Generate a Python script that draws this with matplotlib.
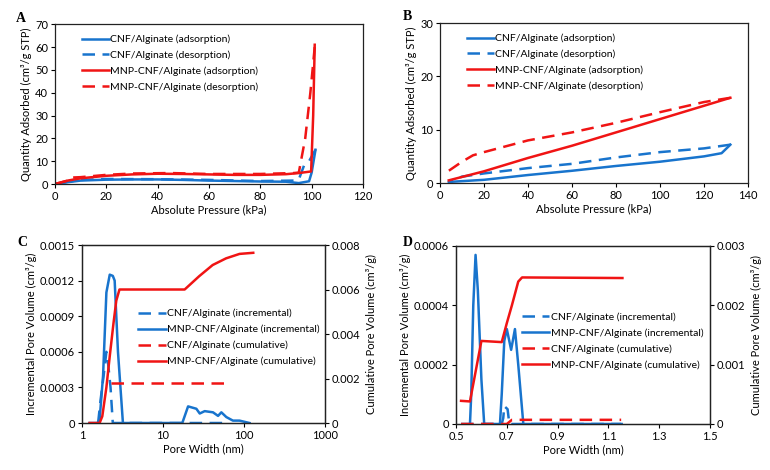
import matplotlib
matplotlib.use("Agg")
import matplotlib.pyplot as plt
import numpy as np

plt.rcParams['font.family'] = ['Lato', 'DejaVu Sans']
plt.rcParams['font.size'] = 8
plt.rcParams['legend.fontsize'] = 7.5

blue = '#1874cd'
red = '#f01414'

# ---- A: isotherms (wide range) ----
a_cnf_ads_x = [0, 5, 10, 20, 30, 40, 50, 60, 70, 80, 90, 95, 99, 100, 101.5]
a_cnf_ads_y = [0, 0.8, 1.5, 1.9, 2.0, 2.0, 1.8, 1.5, 1.3, 1.1, 1.0, 0.4, 1.2, 5, 15]
a_cnf_des_x = [101.5, 99, 97, 95, 93, 80, 60, 40, 20, 10, 5, 0]
a_cnf_des_y = [15, 10, 8, 2.0, 1.5, 1.3, 1.8, 2.1, 2.2, 1.8, 1.0, 0]
a_mnp_ads_x = [0, 5, 10, 20, 30, 40, 50, 60, 70, 80, 90, 95, 99.8, 100.6, 101.2]
a_mnp_ads_y = [0, 1.5, 2.5, 3.6, 4.2, 4.5, 4.4, 4.2, 4.0, 4.0, 4.3, 4.8, 5.5, 30, 61]
a_mnp_des_x = [101.2, 99.5, 97.5, 95, 93, 80, 60, 45, 30, 20, 10, 6, 5, 0]
a_mnp_des_y = [60, 40, 20, 5.0, 4.8, 4.4, 4.4, 4.8, 4.6, 4.0, 3.0, 2.8, 1.5, 0]

# ---- B: isotherms (low range) ----
b_cnf_ads_x = [4, 20, 40, 60, 80, 100, 120, 128, 132]
b_cnf_ads_y = [0.2, 0.6, 1.5, 2.3, 3.2, 4.0, 5.0, 5.6, 7.2]
b_cnf_des_x = [132, 120, 100, 80, 60, 40, 20, 10, 6, 4]
b_cnf_des_y = [7.2, 6.5, 5.8, 4.8, 3.6, 2.8, 1.8, 1.2, 0.5, 0.2]
b_mnp_ads_x = [4, 20, 40, 60, 80, 100, 120, 132]
b_mnp_ads_y = [0.5, 2.2, 4.7, 7.0, 9.5, 12.0, 14.5, 16.0]
b_mnp_des_x = [132, 120, 100, 80, 60, 40, 20, 15, 10, 4]
b_mnp_des_y = [16.0, 15.2, 13.3, 11.3, 9.5, 8.0, 5.8, 5.2, 4.0, 2.3]

# ---- C: pore size distribution (log) ----
c_cnf_inc_x = [1.58, 1.7, 1.85, 2.0, 2.1, 2.25, 2.4, 3.0, 20, 30, 60]
c_cnf_inc_y = [0, 0.0002, 0.0004, 0.0006, 0.0005, 0.0003, 0, 0, 0, 0, 0]
c_mnp_inc_x = [1.24, 1.55, 1.65, 1.82, 2.0, 2.2, 2.4, 2.53, 2.78, 3.2, 10, 17.3, 20.4, 25.8,
               28.4, 32.7, 41.4, 47.8, 52.5, 60.5, 73, 88, 117]
c_mnp_inc_y = [0, 0, 0.00003, 0.0004, 0.0011, 0.00125, 0.00124, 0.0012, 0.0006, 0, 0, 0,
               0.00014, 0.00012, 0.00008, 0.0001, 0.00009, 0.00006, 0.00009, 0.00005,
               0.00002, 0.00002, 0]
c_cnf_cum_x = [2.3, 60]
c_cnf_cum_y = [0.0018, 0.0018]
c_mnp_cum_x = [1.24, 1.65, 1.78, 2.0, 2.2, 2.45, 2.65, 2.9, 10, 18.5, 28, 41, 60, 88, 130]
c_mnp_cum_y = [0, 0, 0.0003, 0.0016, 0.003, 0.0045, 0.0055, 0.006, 0.006, 0.006,
               0.0066, 0.0071, 0.0074, 0.0076, 0.00765]

# ---- D: pore size distribution (micropores) ----
d_cnf_inc_x = [0.52, 0.68, 0.686, 0.69, 0.703, 0.71, 1.15]
d_cnf_inc_y = [0, 0, 0.00002, 0.00006, 0.00005, 0, 0]
d_mnp_inc_x = [0.555, 0.56, 0.568, 0.577, 0.586, 0.6, 0.611, 0.673, 0.68, 0.69, 0.70,
               0.717, 0.732, 0.745, 0.765, 1.152]
d_mnp_inc_y = [0, 0.0001, 0.0004, 0.00057, 0.00045, 0.00015, 0, 0, 0.0001, 0.00028,
               0.00032, 0.00025, 0.00032, 0.0002, 0, 0]
d_cnf_cum_x = [0.52, 0.56, 0.70, 0.72, 1.15]
d_cnf_cum_y = [0, 0, 0, 0.00007, 0.00007]
d_mnp_cum_x = [0.52, 0.555, 0.6, 0.68, 0.70, 0.72, 0.745, 0.76, 1.155]
d_mnp_cum_y = [0.00039, 0.00038, 0.0014, 0.00138, 0.0017, 0.002, 0.0024, 0.00247, 0.00246]

dash = (5, 3)
lw = 1.8


def style(ax):
    for s in ax.spines.values():
        s.set_linewidth(0.9)
        s.set_color('#222222')
    ax.tick_params(direction='out', length=3, width=0.8, pad=2)


fig = plt.figure(figsize=(7.7, 4.7), dpi=100)

# A
axA = fig.add_axes([0.0714, 0.6085, 0.40, 0.340])
axA.plot(a_cnf_ads_x, a_cnf_ads_y, color=blue, lw=lw, label='CNF/Alginate (adsorption)')
axA.plot(a_cnf_des_x, a_cnf_des_y, color=blue, lw=lw, dashes=dash, label='CNF/Alginate (desorption)')
axA.plot(a_mnp_ads_x, a_mnp_ads_y, color=red, lw=lw, label='MNP-CNF/Alginate (adsorption)')
axA.plot(a_mnp_des_x, a_mnp_des_y, color=red, lw=lw, dashes=dash, label='MNP-CNF/Alginate (desorption)')
axA.set_xlim(0, 120)
axA.set_ylim(0, 70)
axA.set_xticks(np.arange(0, 121, 20))
axA.set_yticks(np.arange(0, 71, 10))
axA.set_xlabel('Absolute Pressure (kPa)', labelpad=2)
axA.set_ylabel('Quantity Adsorbed (cm³/g STP)', labelpad=2)
style(axA)
axA.legend(loc='upper left', bbox_to_anchor=(0.075, 0.96), frameon=False, handlelength=2.6,
           handletextpad=0.1, labelspacing=0.6, borderaxespad=0)

# B
axB = fig.add_axes([0.5714, 0.6106, 0.40, 0.340])
axB.plot(b_cnf_ads_x, b_cnf_ads_y, color=blue, lw=lw, label='CNF/Alginate (adsorption)')
axB.plot(b_cnf_des_x, b_cnf_des_y, color=blue, lw=lw, dashes=dash, label='CNF/Alginate (desorption)')
axB.plot(b_mnp_ads_x, b_mnp_ads_y, color=red, lw=lw, label='MNP-CNF/Alginate (adsorption)')
axB.plot(b_mnp_des_x, b_mnp_des_y, color=red, lw=lw, dashes=dash, label='MNP-CNF/Alginate (desorption)')
axB.set_xlim(0, 140)
axB.set_ylim(0, 30)
axB.set_xticks(np.arange(0, 141, 20))
axB.set_yticks([0, 10, 20, 30])
axB.set_xlabel('Absolute Pressure (kPa)', labelpad=2)
axB.set_ylabel('Quantity Adsorbed (cm³/g STP)', labelpad=2)
style(axB)
axB.legend(loc='upper left', bbox_to_anchor=(0.075, 0.96), frameon=False, handlelength=2.6,
           handletextpad=0.1, labelspacing=0.6, borderaxespad=0)

# C
axC = fig.add_axes([0.1065, 0.10, 0.3156, 0.3787])
axC2 = axC.twinx()
l1, = axC.plot(c_cnf_inc_x, c_cnf_inc_y, color=blue, lw=lw, dashes=dash, label='CNF/Alginate (incremental)')
l2, = axC.plot(c_mnp_inc_x, c_mnp_inc_y, color=blue, lw=lw, label='MNP-CNF/Alginate (incremental)')
l3, = axC2.plot(c_cnf_cum_x, c_cnf_cum_y, color=red, lw=lw, dashes=dash, label='CNF/Alginate (cumulative)')
l4, = axC2.plot(c_mnp_cum_x, c_mnp_cum_y, color=red, lw=lw, label='MNP-CNF/Alginate (cumulative)')
axC.set_xscale('log')
axC.set_xlim(1, 1000)
axC.set_ylim(0, 0.0015)
axC2.set_ylim(0, 0.008)
axC.set_xticks([1, 10, 100, 1000])
axC.set_xticklabels(['1', '10', '100', '1000'])
axC.minorticks_off()
axC.set_yticks([0, 0.0003, 0.0006, 0.0009, 0.0012, 0.0015])
axC.set_yticklabels(['0', '0.0003', '0.0006', '0.0009', '0.0012', '0.0015'])
axC2.set_yticks([0, 0.002, 0.004, 0.006, 0.008])
axC2.set_yticklabels(['0', '0.002', '0.004', '0.006', '0.008'])
axC.set_xlabel('Pore Width (nm)', labelpad=2)
axC.set_ylabel('Incremental Pore Volume (cm³/g)', labelpad=2)
axC2.set_ylabel('Cumulative Pore Volume (cm³/g)', labelpad=4)
style(axC)
style(axC2)
axC2.legend(handles=[l1, l2, l3, l4], loc='upper left', bbox_to_anchor=(0.215, 0.665), frameon=False,
            handlelength=2.6, handletextpad=0.1, labelspacing=0.62, borderaxespad=0)

# D
axD = fig.add_axes([0.5922, 0.0979, 0.33, 0.3787])
axD2 = axD.twinx()
m1, = axD.plot(d_cnf_inc_x, d_cnf_inc_y, color=blue, lw=lw, dashes=dash, label='CNF/Alginate (incremental)')
m2, = axD.plot(d_mnp_inc_x, d_mnp_inc_y, color=blue, lw=lw, label='MNP-CNF/Alginate (incremental)')
m3, = axD2.plot(d_cnf_cum_x, d_cnf_cum_y, color=red, lw=lw, dashes=dash, label='CNF/Alginate (cumulative)')
m4, = axD2.plot(d_mnp_cum_x, d_mnp_cum_y, color=red, lw=lw, label='MNP-CNF/Alginate (cumulative)')
axD.set_xlim(0.5, 1.5)
axD.set_ylim(0, 0.0006)
axD2.set_ylim(0, 0.003)
axD.set_xticks([0.5, 0.7, 0.9, 1.1, 1.3, 1.5])
axD.set_xticklabels(['0.5', '0.7', '0.9', '1.1', '1.3', '1.5'])
axD.set_yticks([0, 0.0002, 0.0004, 0.0006])
axD.set_yticklabels(['0', '0.0002', '0.0004', '0.0006'])
axD2.set_yticks([0, 0.001, 0.002, 0.003])
axD2.set_yticklabels(['0', '0.001', '0.002', '0.003'])
axD.set_xlabel('Pore Width (nm)', labelpad=2)
axD.set_ylabel('Incremental Pore Volume (cm³/g)', labelpad=2)
axD2.set_ylabel('Cumulative Pore Volume (cm³/g)', labelpad=4)
style(axD)
style(axD2)
axD2.legend(handles=[m1, m2, m3, m4], loc='upper left', bbox_to_anchor=(0.245, 0.65), frameon=False,
            handlelength=2.6, handletextpad=0.1, labelspacing=0.62, borderaxespad=0)

# panel letters
for lab, x, y in [('A', 21, 18), ('B', 407, 17), ('C', 22, 243), ('D', 408, 243)]:
    fig.text(x / 770, 1 - y / 470, lab, fontsize=10, fontweight='bold', family='Liberation Serif',
             ha='center', va='center')

fig.savefig('out.png', dpi=100)
